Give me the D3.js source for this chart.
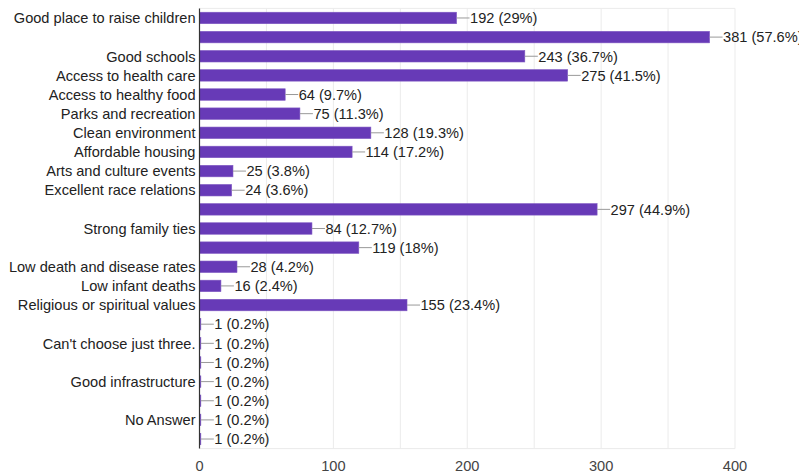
<!DOCTYPE html>
<html><head><meta charset="utf-8">
<script src="https://cdn.jsdelivr.net/npm/d3@7"></script>
<style>body{margin:0;background:#fff}svg{display:block}text{font-family:"Liberation Sans",Arial,sans-serif}</style>
</head><body>
<svg id="c" width="799" height="473"></svg>
<script>
const categories = ["Good place to raise children","","Good schools","Access to health care","Access to healthy food","Parks and recreation","Clean environment","Affordable housing","Arts and culture events","Excellent race relations","","Strong family ties","","Low death and disease rates","Low infant deaths","Religious or spiritual values","","Can't choose just three.","","Good infrastructure","","No Answer",""];
const values = [192,381,243,275,64,75,128,114,25,24,297,84,119,28,16,155,1,1,1,1,1,1,1];
const totalRespondents = 662;
const xTicks = [0,100,200,300,400];
const xGrid = [0,50,100,150,200,250,300,350,400];

const FS = 14.6;
const svg = d3.select("#c");
const m = {l:199.5, r:735, t:8.4, b:448.6};
const x = d3.scaleLinear().domain([0,400]).range([m.l, m.r]);
const y = d3.scaleBand().domain(d3.range(categories.length)).range([m.t, m.b]).paddingInner(0.4).paddingOuter(0.2);

// grid
svg.append("g").selectAll("line").data(xGrid.slice(1)).join("line")
  .attr("x1", d=>x(d)).attr("x2", d=>x(d)).attr("y1", m.t).attr("y2", m.b)
  .attr("stroke", "#ebebeb").attr("stroke-width", 1);
svg.append("line").attr("x1", m.l).attr("x2", m.r).attr("y1", m.t).attr("y2", m.t).attr("stroke","#ebebeb");
svg.append("line").attr("x1", m.l).attr("x2", m.r).attr("y1", m.b).attr("y2", m.b).attr("stroke","#ebebeb");

// bars
svg.append("g").selectAll("rect").data(values).join("rect")
  .attr("x", x(0)).attr("y", (d,i)=>y(i))
  .attr("width", d=>x(d)-x(0)).attr("height", y.bandwidth())
  .attr("fill", "#673ab7").attr("stroke","#7e57c2").attr("stroke-width",0.6);

// axis line
svg.append("line").attr("x1", m.l).attr("x2", m.l).attr("y1", m.t).attr("y2", m.b).attr("stroke","#333").attr("stroke-width",1.2);

// leader lines + value labels
const pct = v => { const p = +(v/totalRespondents*100).toFixed(1); return p + "%"; };
const g = svg.append("g");
values.forEach((v,i)=>{
  const cy = y(i) + y.bandwidth()/2;
  const xe = x(v);
  g.append("line").attr("x1", xe).attr("x2", xe+13).attr("y1", cy).attr("y2", cy).attr("stroke","#999").attr("stroke-width",1);
  g.append("text").attr("x", xe+13.5).attr("y", cy).attr("dy","0.36em")
    .attr("font-size", FS).attr("fill","#222").text(`${v} (${pct(v)})`);
});

// category labels
svg.append("g").selectAll("text").data(categories).join("text")
  .attr("x", m.l-4).attr("y", (d,i)=>y(i)+y.bandwidth()/2).attr("dy","0.36em")
  .attr("text-anchor","end").attr("font-size",FS).attr("fill","#222").text(d=>d);

// x axis ticks
svg.append("g").selectAll("text").data(xTicks).join("text")
  .attr("x", d=>x(d)).attr("y", 470.5).attr("text-anchor","middle")
  .attr("font-size",FS).attr("fill","#444").text(d=>d);
</script>
</body></html>
